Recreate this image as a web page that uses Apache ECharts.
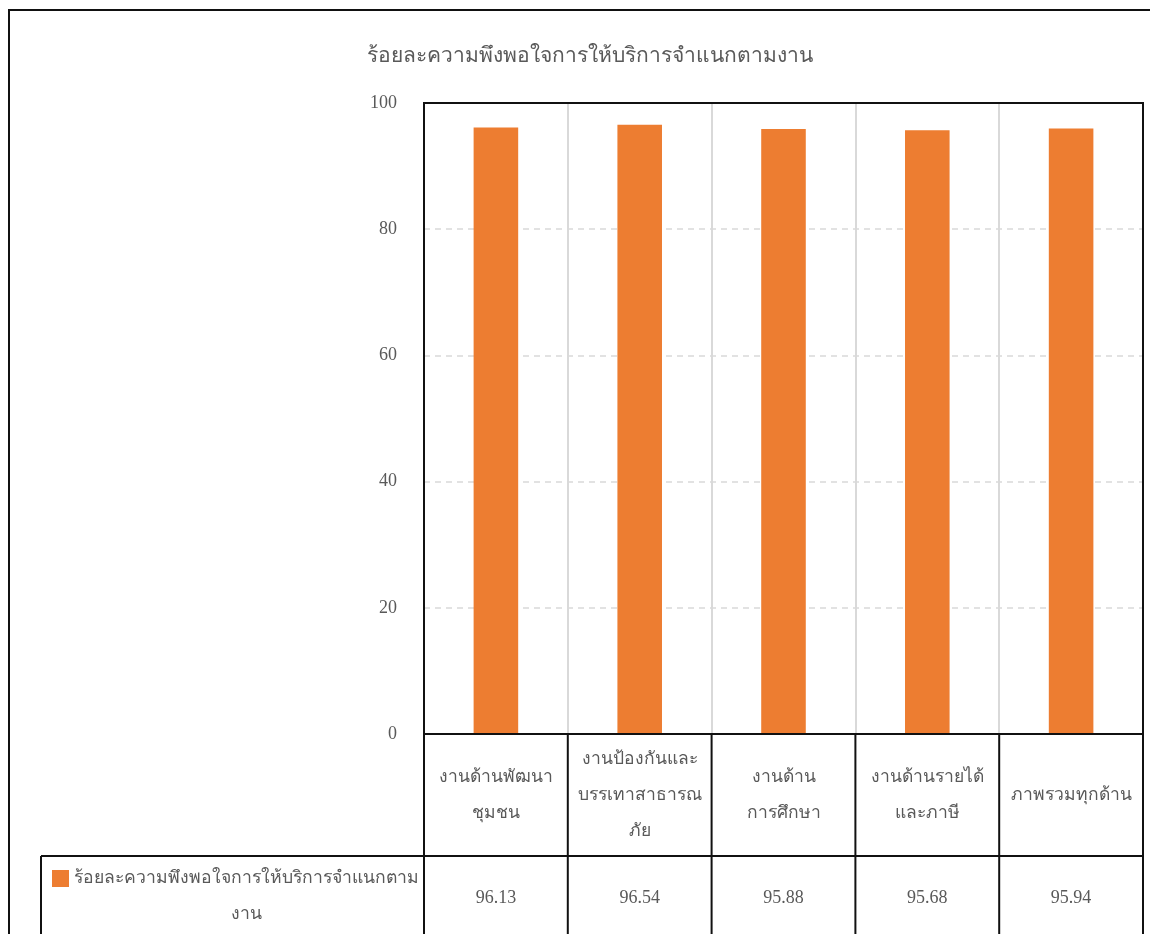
<!DOCTYPE html>
<html>
<head>
<meta charset="utf-8">
<script src="https://cdn.jsdelivr.net/npm/echarts@6/dist/echarts.min.js"></script>
<style>
html,body{margin:0;padding:0;background:#fff;}
#chart{width:1150px;height:934px;}
</style>
</head>
<body>
<div id="chart"></div>
<script>
var titleText = 'ร้อยละความพึงพอใจการให้บริการจำแนกตามงาน';
var seriesName = 'ร้อยละความพึงพอใจการให้บริการจำแนกตามงาน';
var categories = ['งานด้านพัฒนา\nชุมชน', 'งานป้องกันและ\nบรรเทาสาธารณ\nภัย', 'งานด้าน\nการศึกษา', 'งานด้านรายได้\nและภาษี', 'ภาพรวมทุกด้าน'];
var values = [96.13, 96.54, 95.88, 95.68, 95.94];
var yTicks = [0, 20, 40, 60, 80, 100];

var FONT = '"Liberation Serif", "Times New Roman", serif';
var TXT = '#595959';
var chart = echarts.init(document.getElementById('chart'), null, {renderer: 'canvas'});

var gridLeft = 424, gridRight = 7, gridTop = 103, gridBottom = 200;

chart.setOption({
  backgroundColor: '#fff',
  animation: false,
  title: {
    text: titleText,
    left: 585, top: 41, textAlign: 'center',
    textStyle: {fontFamily: FONT, fontSize: 21, fontWeight: 'normal', color: TXT}
  },
  grid: {
    left: gridLeft, right: gridRight, top: gridTop, bottom: gridBottom, show: false
  },
  xAxis: {
    type: 'category',
    data: categories,
    axisLine: {show: false},
    axisTick: {show: false},
    splitLine: {show: true, lineStyle: {color: '#d9d9d9', width: 2}},
    axisLabel: {
      interval: 0, margin: 61, verticalAlign: 'middle',
      fontFamily: FONT, fontSize: 17.5, color: TXT, lineHeight: 36, align: 'center'
    }
  },
  yAxis: {
    type: 'value', min: 0, max: 100, interval: 20,
    axisLine: {show: false}, axisTick: {show: false},
    splitLine: {show: true, lineStyle: {color: '#d9d9d9', type: [6, 5], width: 1.5}},
    axisLabel: {
      margin: 27, fontFamily: FONT, fontSize: 18, color: TXT,
      formatter: function (v) { return yTicks.indexOf(v) >= 0 ? String(v) : ''; }
    }
  },
  series: [{
    name: seriesName,
    type: 'bar',
    data: values,
    barWidth: '31%',
    itemStyle: {color: '#ED7D31'}
  }]
});

function buildTable() {
  var rect = chart.getModel().getComponent('grid', 0).coordinateSystem.getRect();
  var x0 = rect.x, x1 = rect.x + rect.width, yb = rect.y + rect.height;
  var band = rect.width / categories.length;
  var rowSplit = yb + 122;
  var bottom = 1000;
  var legendLeft = 41;
  var els = [];
  var line = {stroke: '#111', lineWidth: 2};
  // outer frame
  els.push({type: 'rect', shape: {x: 9, y: 10, width: 1300, height: 1200}, style: {fill: 'none', stroke: '#111', lineWidth: 2}, z: 100});
  // plot frame
  els.push({type: 'rect', shape: {x: rect.x, y: rect.y, width: rect.width, height: rect.height}, style: {fill: 'none', stroke: '#111', lineWidth: 2}, z: 100});
  // vertical table lines
  for (var i = 0; i <= categories.length; i++) {
    var xx = x0 + band * i;
    els.push({type: 'line', shape: {x1: xx, y1: yb, x2: xx, y2: bottom}, style: line, z: 100});
  }
  // horizontal line between category row and value row
  els.push({type: 'line', shape: {x1: legendLeft, y1: rowSplit, x2: x1, y2: rowSplit}, style: line, z: 100});
  // legend cell left border
  els.push({type: 'line', shape: {x1: legendLeft, y1: rowSplit, x2: legendLeft, y2: bottom}, style: line, z: 100});
  // values row
  for (var j = 0; j < values.length; j++) {
    var px = chart.convertToPixel({xAxisIndex: 0}, j);
    els.push({type: 'text', x: px, y: rowSplit + 42, style: {
      text: values[j].toFixed(2), fill: TXT, font: '18px ' + FONT, align: 'center', verticalAlign: 'middle'
    }, z: 100});
  }
  // legend key
  els.push({type: 'rect', shape: {x: 52, y: rowSplit + 14, width: 17, height: 17}, style: {fill: '#ED7D31'}, z: 100});
  els.push({type: 'text', x: 246, y: rowSplit + 40, style: {
    text: seriesName.slice(0, seriesName.length - 3) + '\n' + seriesName.slice(seriesName.length - 3),
    fill: TXT, font: '17.6px ' + FONT, align: 'center', verticalAlign: 'middle', lineHeight: 36
  }, z: 100});
  chart.setOption({graphic: {elements: els}});
}
buildTable();
</script>
</body>
</html>
